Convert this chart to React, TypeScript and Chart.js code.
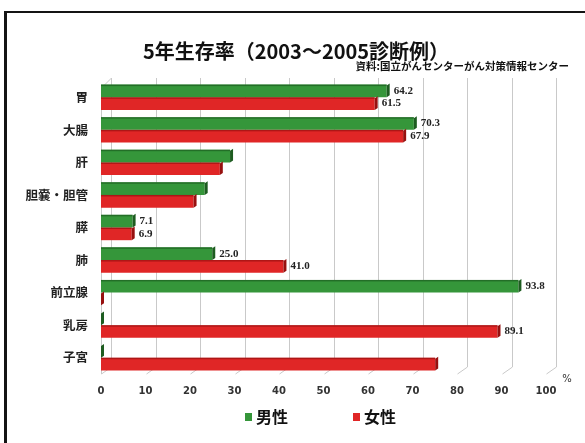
import React, { useEffect, useRef } from 'react';
import { Chart, registerables } from 'chart.js';

Chart.register(...registerables);

const categories = ['胃', '大腸', '肝', '胆嚢・胆管', '膵', '肺', '前立腺', '乳房', '子宮'];
const maleValues = [64.2, 70.3, 29.0, 23.3, 7.1, 25.0, 93.8, 0, 0];
const femaleValues = [61.5, 67.9, 26.7, 20.8, 6.9, 41.0, 0, 89.1, 75.1];
const maleLabels = ['64.2', '70.3', null, null, '7.1', '25.0', '93.8', null, null];
const femaleLabels = ['61.5', '67.9', null, null, '6.9', '41.0', null, '89.1', null];
const seriesNames = ['男性', '女性'];
const titleText = '5年生存率（2003～2005診断例）';
const sourceText = '資料:国立がんセンターがん対策情報センター';
const unitText = '%';

const GREEN = '#35963a';
const GREEN_DARK = '#1d5c20';
const RED = '#e02626';
const RED_DARK = '#97100f';

const decorPlugin = {
  id: 'decor',
  beforeDatasetsDraw(chart: any) {
    const ctx = chart.ctx;
    const xs = chart.scales.x;
    const area = chart.chartArea;
    const dx = 10;
    const dy = 7;
    ctx.save();
    ctx.strokeStyle = '#c9c9c9';
    ctx.lineWidth = 1;
    const ticks = xs.ticks;
    ticks.forEach((t: any) => {
      const px = Math.round(xs.getPixelForValue(t.value)) + 0.5;
      ctx.beginPath();
      ctx.moveTo(px + dx, area.top - 3);
      ctx.lineTo(px + dx, area.bottom - dy);
      ctx.lineTo(px, area.bottom);
      ctx.stroke();
    });
    // left wall
    const lx = Math.round(area.left) + 0.5;
    ctx.beginPath();
    ctx.moveTo(lx, area.bottom);
    ctx.lineTo(lx, area.top + 7);
    ctx.lineTo(lx + dx, area.top - 3);
    ctx.stroke();
    ctx.restore();
  },
  afterDatasetsDraw(chart: any) {
    const ctx = chart.ctx;
    const caps = [GREEN_DARK, RED_DARK];
    const labelSets = [maleLabels, femaleLabels];
    ctx.save();
    chart.data.datasets.forEach((ds: any, i: number) => {
      const meta = chart.getDatasetMeta(i);
      meta.data.forEach((bar: any, j: number) => {
        const p = bar.getProps(['x', 'y', 'base', 'height'], true);
        const top = p.y - p.height / 2;
        const bottom = p.y + p.height / 2;
        // top edge shading
        ctx.fillStyle = caps[i];
        ctx.globalAlpha = 0.7;
        ctx.fillRect(p.base, top, p.x - p.base, 1.5);
        ctx.globalAlpha = 1;
        // right cap (3D depth)
        ctx.beginPath();
        ctx.moveTo(p.x, top + 1);
        ctx.lineTo(p.x + 3, top - 1);
        ctx.lineTo(p.x + 3, bottom - 2);
        ctx.lineTo(p.x, bottom);
        ctx.closePath();
        ctx.fill();
        const lbl = labelSets[i][j];
        if (lbl) {
          ctx.fillStyle = '#222';
          ctx.font = 'bold 11px "Liberation Serif", "DejaVu Serif", serif';
          ctx.textAlign = 'left';
          ctx.textBaseline = 'middle';
          ctx.fillText(lbl, p.x + 7, p.y);
        }
      });
    });
    ctx.restore();
  },
  afterDraw(chart: any) {
    const ctx = chart.ctx;
    ctx.save();
    // frame
    ctx.fillStyle = '#141414';
    ctx.fillRect(4, 11, 3, 432);
    ctx.fillRect(4, 11, 581, 2);
    // title
    ctx.fillStyle = '#111';
    ctx.textBaseline = 'middle';
    ctx.textAlign = 'center';
    ctx.font = 'bold 20px "Noto Sans CJK JP", sans-serif';
    ctx.fillText(titleText, 296, 51);
    // source
    ctx.textAlign = 'right';
    ctx.font = 'bold 10.5px "Noto Sans CJK JP", sans-serif';
    ctx.fillText(sourceText, 569, 66);
    // unit
    ctx.textAlign = 'center';
    ctx.fillStyle = '#333';
    ctx.font = '10px "DejaVu Sans", sans-serif';
    ctx.fillText(unitText, 567, 379);
    // legend
    const colors = [GREEN, RED];
    const lx = [245, 353];
    ctx.textAlign = 'left';
    ctx.font = 'bold 16px "Noto Sans CJK JP", sans-serif';
    seriesNames.forEach((n, i) => {
      ctx.fillStyle = colors[i];
      ctx.fillRect(lx[i], 413, 7, 8);
      ctx.fillStyle = '#111';
      ctx.fillText(n, lx[i] + 11, 417);
    });
    ctx.restore();
  },
};

export default function App() {
  const ref = useRef<HTMLCanvasElement>(null);
  useEffect(() => {
    document.body.style.margin = '0';
    const chart = new Chart(ref.current as HTMLCanvasElement, {
      type: 'bar',
      data: {
        labels: categories,
        datasets: [
          {
            label: seriesNames[0],
            data: maleValues,
            backgroundColor: GREEN,
            barPercentage: 1,
            categoryPercentage: 0.78,
          },
          {
            label: seriesNames[1],
            data: femaleValues,
            backgroundColor: RED,
            barPercentage: 1,
            categoryPercentage: 0.78,
          },
        ],
      },
      options: {
        indexAxis: 'y',
        responsive: false,
        animation: false,
        layout: { padding: { top: 81, right: 39, left: 0, bottom: 0 } },
        plugins: {
          legend: { display: false },
          title: { display: false },
          tooltip: { enabled: false },
        },
        scales: {
          x: {
            min: 0,
            max: 100,
            ticks: {
              stepSize: 10,
              padding: 11,
              color: '#333',
              font: { family: '"DejaVu Sans", sans-serif', size: 10, weight: 'bold' },
            },
            grid: { display: false, drawTicks: false },
            border: { display: false },
            afterFit: (s: any) => {
              s.height = 69;
            },
          },
          y: {
            ticks: {
              padding: 13,
              color: '#222',
              font: { family: '"Noto Sans CJK JP", sans-serif', size: 12.5, weight: 'bold' },
            },
            grid: { display: false, drawTicks: false },
            border: { display: false },
            afterFit: (s: any) => {
              s.width = 101;
            },
          },
        },
      },
      plugins: [decorPlugin],
    });
    return () => chart.destroy();
  }, []);
  return (
    <div style={{ position: 'absolute', left: 0, top: 0, width: 585, height: 443, background: '#fff' }}>
      <canvas ref={ref} width={585} height={443} />
    </div>
  );
}
